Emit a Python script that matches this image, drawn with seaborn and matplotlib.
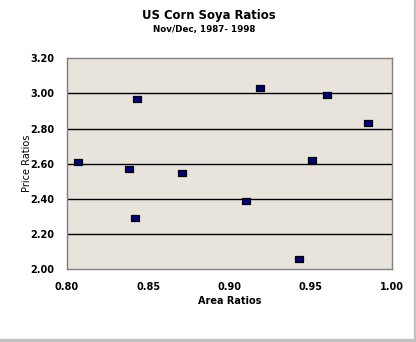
import matplotlib
matplotlib.use("Agg")
import matplotlib.pyplot as plt
import seaborn as sns
import pandas as pd

# Area ratio vs price ratio, Nov/Dec 1987-1998
area_ratios = [0.807, 0.838, 0.843, 0.842, 0.871, 0.910, 0.919, 0.943, 0.951, 0.960, 0.985]
price_ratios = [2.61, 2.57, 2.97, 2.29, 2.55, 2.39, 3.03, 2.06, 2.62, 2.99, 2.83]
x_ticks = [0.80, 0.85, 0.90, 0.95, 1.00]
y_ticks = [2.00, 2.20, 2.40, 2.60, 2.80, 3.00, 3.20]

df = pd.DataFrame({"Area Ratios": area_ratios, "Price Ratios": price_ratios})

sns.set_style("white")
plt.rcParams["font.family"] = ["DejaVu Sans"]
plt.rcParams["text.color"] = "black"
plt.rcParams["axes.labelcolor"] = "black"
plt.rcParams["xtick.color"] = "black"
plt.rcParams["ytick.color"] = "black"

fig = plt.figure(figsize=(4.16, 3.42), dpi=100)
ax = fig.add_axes([67 / 416, 1 - 269.3 / 342, 325 / 416, 211 / 342])
ax.set_facecolor("#E8E4DC")

rect = [(-1.35, -1.0), (1.35, -1.0), (1.35, 1.0), (-1.35, 1.0), (-1.35, -1.0)]
sns.scatterplot(data=df, x="Area Ratios", y="Price Ratios", ax=ax,
                marker=rect, s=32, color="#000080", edgecolor="black",
                linewidth=0.9, zorder=3)

ax.set_xlim(0.80, 1.00)
ax.set_ylim(2.00, 3.20)
ax.set_xticks(x_ticks)
ax.set_yticks(y_ticks)
ax.set_xticklabels([f"{v:.2f}" for v in x_ticks], fontsize=7, fontweight="bold")
ax.set_yticklabels([f"{v:.2f}" for v in y_ticks], fontsize=7, fontweight="bold")
ax.tick_params(axis="both", direction="out", length=4, width=0.9, color="black", pad=5)
ax.set_xlabel("Area Ratios", fontsize=7, fontweight="bold", labelpad=3)
ax.set_ylabel("Price Ratios", fontsize=7, labelpad=-1)

for v in y_ticks[1:-1]:
    ax.axhline(v, color="black", linewidth=1.0, zorder=1)
for side in ["left", "right", "top", "bottom"]:
    ax.spines[side].set_visible(True)
    ax.spines[side].set_color("#808080")
    ax.spines[side].set_linewidth(1.0)

fig.text(0.502, 1 - 15.5 / 342, "US Corn Soya Ratios", ha="center", va="center",
         fontsize=8.4, fontweight="bold")
fig.text(0.491, 1 - 29.5 / 342, "Nov/Dec, 1987- 1998", ha="center", va="center",
         fontsize=6.3, fontweight="bold")

# window frame at right and bottom edge
fig.patches.append(plt.Rectangle((1 - 2.5 / 416, 0), 2.5 / 416, 1, transform=fig.transFigure,
                                 color="#C0C0C0", zorder=0))
fig.patches.append(plt.Rectangle((0, 0), 1, 3 / 342, transform=fig.transFigure,
                                 color="#C0C0C0", zorder=0))

fig.savefig("out.png", dpi=100, facecolor="white")
